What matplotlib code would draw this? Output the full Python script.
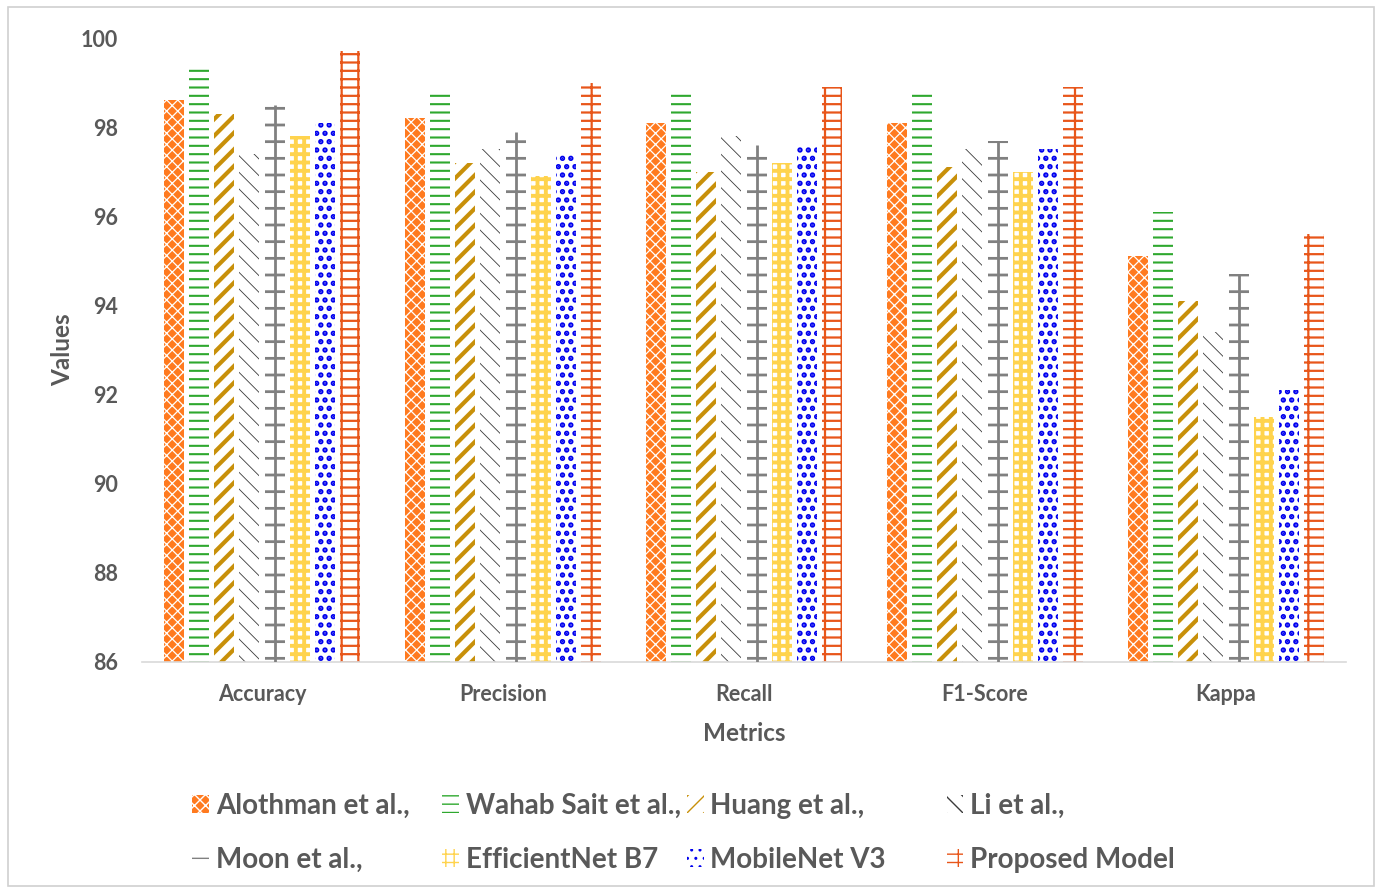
import matplotlib
matplotlib.use("Agg")
import matplotlib.pyplot as plt
import numpy as np
from matplotlib.patches import Rectangle

metrics = ["Accuracy", "Precision", "Recall", "F1-Score", "Kappa"]
models = ["Alothman et al.,", "Wahab Sait et al.,", "Huang et al.,", "Li et al.,",
          "Moon et al.,", "EfficientNet B7", "MobileNet V3", "Proposed Model"]

alothman = [98.6, 98.2, 98.1, 98.1, 95.1]
wahab_sait = [99.4, 98.8, 98.8, 98.8, 96.1]
huang = [98.3, 97.2, 97.0, 97.1, 94.1]
li = [97.4, 97.5, 97.8, 97.5, 93.4]
moon = [98.5, 97.9, 97.6, 97.7, 94.7]
efficientnet_b7 = [97.8, 96.9, 97.2, 97.0, 91.5]
mobilenet_v3 = [98.1, 97.4, 97.6, 97.5, 92.1]
proposed = [99.7, 99.0, 98.9, 98.9, 95.6]

series = [alothman, wahab_sait, huang, li, moon, efficientnet_b7, mobilenet_v3, proposed]

# fill / hatch styling per series: (facecolor, hatch colour, hatch, hatch linewidth)
styles = [
    ("#FF7A1F", "#FFFFFF", "xxx", 0.9),
    ("#FFFFFF", "#2EA82E", "--", 1.5),
    ("#FFFFFF", "#C8900A", "//", 3.0),
    ("#FFFFFF", "#3A3A3A", "\\\\", 0.6),
    ("#FFFFFF", "#808080", "-", 2.0),
    ("#FFFFFF", "#FFD34D", "++", 2.8),
    ("#FFFFFF", "#0000EE", "..", 2.6),
    ("#FFFFFF", "#E8561A", "--|", 1.6),
]

TEXT = "#595959"
plt.rcParams["font.family"] = ["Lato", "DejaVu Sans"]

fig = plt.figure(figsize=(13.82, 8.93), dpi=100)
fig.patches.append(Rectangle((0.006, 0.008), 0.988, 0.984, transform=fig.transFigure,
                             fill=False, edgecolor="#D0D0D0", linewidth=1.2))
ax = fig.add_axes([0.1024, 0.2587, 0.8719, 0.6987])

x = np.arange(len(metrics))
step = 0.104
width = 0.083
handles = []
for i, (vals, (fc, hc, hatch, hlw)) in enumerate(zip(series, styles)):
    offs = x + (i - 3.5) * step
    heights = np.array(vals) - 86
    with plt.rc_context({"hatch.linewidth": hlw}):
        bars = ax.bar(offs, heights, width, bottom=86, color=fc, edgecolor=hc,
                      hatch=hatch, linewidth=0, label=models[i], zorder=2)
        for b in bars:
            if hasattr(b, "set_hatch_linewidth"):
                b.set_hatch_linewidth(hlw)
    if i == 4:
        # central stem of the tick-ladder bars
        ax.vlines(offs, 86, vals, color=hc, linewidth=2.0, zorder=3)
    handles.append(bars)

ax.set_xlim(-0.5, len(metrics) - 0.5)
ax.set_ylim(86, 100)
ax.set_yticks(np.arange(86, 101, 2))
ax.set_xticks(x)
ax.set_xticklabels(metrics)
for s in ["top", "right", "left"]:
    ax.spines[s].set_visible(False)
ax.spines["bottom"].set_color("#D9D9D9")
ax.spines["bottom"].set_linewidth(1.2)
ax.tick_params(axis="both", length=0, colors=TEXT, labelsize=15.5)
ax.tick_params(axis="x", pad=16)
ax.tick_params(axis="y", pad=17)
for lab in ax.get_xticklabels() + ax.get_yticklabels():
    lab.set_fontweight("bold")

ax.set_xlabel("Metrics", fontsize=17.5, fontweight="bold", color=TEXT, labelpad=12)
ax.set_ylabel("Values", fontsize=17.5, fontweight="bold", color=TEXT, labelpad=5)

# legend: four fixed-width columns, two rows each
col_x = [0.139, 0.320, 0.497, 0.685]
for c in range(4):
    idx = [c, c + 4]
    leg = fig.legend([handles[k] for k in idx], [models[k] for k in idx],
                     ncol=1, loc="upper left", bbox_to_anchor=(col_x[c], 0.112),
                     frameon=False, prop={"size": 20, "weight": "bold"},
                     handlelength=0.6, handleheight=0.6, handletextpad=0.25,
                     labelspacing=1.0, borderpad=0, borderaxespad=0)
    for t in leg.get_texts():
        t.set_color(TEXT)

fig.savefig("out.png", dpi=100)
